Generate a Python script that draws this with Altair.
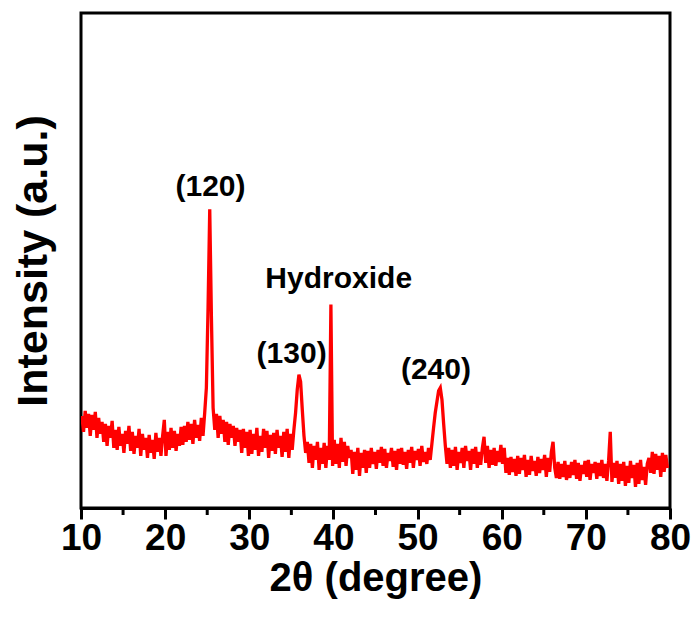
import altair as alt
import pandas as pd

# XRD intensity readings (a.u.), 5 samples per degree at x.1, x.3, x.5, x.7, x.9
rows = {
    10: [92, 76, 97, 80, 94],
    11: [72, 93, 78, 96, 70],
    12: [90, 74, 86, 66, 84],
    13: [62, 82, 70, 87, 60],
    14: [78, 58, 81, 62, 74],
    15: [55, 77, 64, 82, 57],
    16: [76, 54, 72, 60, 79],
    17: [52, 74, 58, 70, 50],
    18: [73, 55, 68, 49, 75],
    19: [56, 70, 52, 72, 88],
    20: [52, 76, 58, 80, 60],
    21: [77, 57, 74, 62, 81],
    22: [63, 82, 66, 86, 68],
    23: [84, 64, 88, 70, 83],
    24: [67, 90, 72, 95, 120],
    25: [200, 298, 190, 100, 78],
    26: [94, 70, 92, 74, 88],
    27: [66, 86, 63, 84, 70],
    28: [82, 62, 80, 66, 78],
    29: [55, 79, 60, 76, 52],
    30: [78, 54, 74, 58, 80],
    31: [52, 72, 56, 79, 60],
    32: [77, 50, 73, 57, 75],
    33: [54, 78, 60, 72, 51],
    34: [76, 56, 79, 50, 74],
    35: [58, 78, 95, 118, 133],
    36: [126, 98, 72, 55, 66],
    37: [45, 64, 40, 62, 48],
    38: [66, 38, 60, 44, 65],
    39: [40, 62, 48, 203, 42],
    40: [68, 44, 64, 40, 70],
    41: [46, 66, 42, 62, 50],
    42: [58, 34, 56, 38, 60],
    43: [32, 55, 40, 58, 35],
    44: [57, 40, 60, 44, 56],
    45: [39, 58, 45, 61, 42],
    46: [59, 40, 55, 47, 60],
    47: [41, 57, 38, 59, 44],
    48: [60, 43, 56, 39, 58],
    49: [45, 61, 40, 57, 48],
    50: [59, 42, 62, 46, 56],
    51: [44, 60, 48, 64, 80],
    52: [95, 106, 117, 120, 108],
    53: [84, 62, 44, 60, 40],
    54: [58, 42, 61, 38, 56],
    55: [45, 60, 40, 62, 47],
    56: [57, 38, 59, 44, 61],
    57: [40, 56, 43, 60, 71],
    58: [45, 62, 40, 58, 43],
    59: [60, 42, 57, 46, 63],
    60: [44, 60, 35, 50, 33],
    61: [51, 36, 49, 32, 52],
    62: [34, 50, 38, 53, 31],
    63: [48, 33, 52, 37, 47],
    64: [32, 51, 35, 49, 38],
    65: [53, 31, 50, 36, 56],
    66: [66, 40, 30, 46, 29],
    67: [44, 31, 47, 28, 43],
    68: [30, 46, 33, 48, 29],
    69: [45, 27, 43, 34, 47],
    70: [31, 48, 28, 44, 35],
    71: [46, 29, 45, 32, 48],
    72: [30, 44, 27, 47, 76],
    73: [26, 45, 30, 47, 24],
    74: [44, 27, 46, 22, 42],
    75: [25, 47, 30, 43, 21],
    76: [45, 24, 48, 28, 41],
    77: [23, 44, 50, 35, 56],
    78: [34, 54, 38, 52, 31],
    79: [55, 36, 53, 40],
}

angles = []
intensity = []
for deg, vals in rows.items():
    for k, v in enumerate(vals):
        angles.append(round(deg + 0.1 + 0.2 * k, 1))
        intensity.append(v)

df = pd.DataFrame({"angle": angles, "intensity": intensity})

major_ticks = [10, 20, 30, 40, 50, 60, 70, 80]
minor_ticks = [15, 25, 35, 45, 55, 65, 75]

ann_text = ["(120)", "Hydroxide", "(130)", "(240)"]
ann_x = [25.39, 40.63, 35.03, 52.18]
ann_y = [311, 220, 145, 129]
ann = pd.DataFrame({"label": ann_text, "angle": ann_x, "intensity": ann_y})

FONT = "Liberation Sans"
W, H = 589, 495

xscale = alt.Scale(domain=[10, 80], nice=False, zero=False)
yscale = alt.Scale(domain=[0, 494], nice=False, zero=True)

line = alt.Chart(df).mark_line(color="#FF0000", strokeWidth=3.3, clip=True,
                               strokeJoin="miter").encode(
    x=alt.X("angle:Q", scale=xscale,
            axis=alt.Axis(values=major_ticks, title="2θ (degree)", grid=False,
                          domain=True, domainColor="black", domainWidth=3,
                          ticks=True, tickColor="black", tickWidth=3, tickSize=11,
                          labelFont=FONT, labelFontSize=37, labelFontWeight="bold",
                          labelColor="black", labelPadding=1, labelFlush=False,
                          titleFont=FONT, titleFontSize=40, titleFontWeight="bold",
                          titleColor="black", titlePadding=2)),
    y=alt.Y("intensity:Q", scale=yscale,
            axis=alt.Axis(title="Intensity (a.u.)", labels=False, ticks=False,
                          domain=False, grid=False,
                          titleFont=FONT, titleFontSize=43, titleFontWeight="bold",
                          titleColor="black", titlePadding=26)),
)

minor = alt.Chart(pd.DataFrame({"m": minor_ticks})).mark_rule(
    color="black", strokeWidth=3).encode(
    x=alt.X("m:Q", scale=xscale),
    y=alt.value(H),
    y2=alt.value(H + 7),
)

text = alt.Chart(ann).mark_text(
    font=FONT, fontSize=30, fontWeight="bold", color="black",
    align="center", baseline="alphabetic").encode(
    x=alt.X("angle:Q", scale=xscale),
    y=alt.Y("intensity:Q", scale=yscale),
    text="label:N",
)

chart = alt.layer(line, minor, text).properties(
    width=W, height=H,
    padding={"left": 81, "top": 13, "right": 29, "bottom": 113},
    autosize=alt.AutoSizeParams(type="none"),
).configure_view(stroke="black", strokeWidth=3)

chart.save("out.html", embed_options={"renderer": "svg", "actions": False})
